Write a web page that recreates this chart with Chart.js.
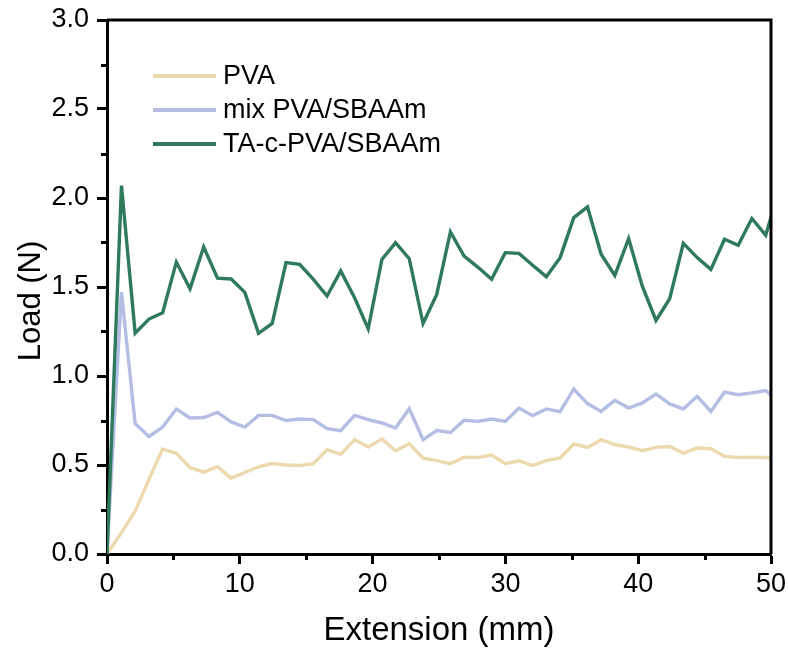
<!DOCTYPE html>
<html>
<head>
<meta charset="utf-8">
<script src="https://cdn.jsdelivr.net/npm/chart.js"></script>
<style>
  body{margin:0;background:#fff;}
  #wrap{width:788px;height:652px;}
</style>
</head>
<body>
<div id="wrap"><canvas id="loadChart" width="788" height="652"></canvas></div>
<script>
// extension (mm) of each sample point, shared by the three curves
const extension = [0, 1.09, 2.12, 3.16, 4.19, 5.22, 6.25, 7.28, 8.32, 9.35,
  10.38, 11.41, 12.44, 13.48, 14.51, 15.54, 16.57, 17.60, 18.64, 19.67,
  20.70, 21.73, 22.76, 23.80, 24.83, 25.86, 26.89, 27.92, 28.96, 29.99,
  31.02, 32.05, 33.08, 34.12, 35.15, 36.18, 37.21, 38.24, 39.28, 40.31,
  41.34, 42.37, 43.40, 44.44, 45.47, 46.50, 47.53, 48.56, 49.60, 50.63];

const seriesNames = ['PVA', 'mix PVA/SBAAm', 'TA-c-PVA/SBAAm'];

// load (N)
const pvaLoad = [0, 0.12, 0.24, 0.42, 0.589, 0.565, 0.486, 0.46, 0.49, 0.426,
  0.458, 0.49, 0.508, 0.50, 0.497, 0.508, 0.586, 0.56, 0.642, 0.601,
  0.646, 0.58, 0.619, 0.539, 0.525, 0.507, 0.544, 0.542, 0.556, 0.507,
  0.524, 0.497, 0.525, 0.54, 0.618, 0.599, 0.642, 0.614, 0.601, 0.58,
  0.599, 0.604, 0.567, 0.595, 0.591, 0.548, 0.542, 0.544, 0.542, 0.535];

const mixLoad = [0, 1.471, 0.732, 0.660, 0.713, 0.815, 0.764, 0.767, 0.796, 0.742,
  0.713, 0.779, 0.779, 0.750, 0.758, 0.755, 0.704, 0.693, 0.779, 0.755,
  0.736, 0.708, 0.816, 0.642, 0.694, 0.683, 0.751, 0.745, 0.758, 0.745,
  0.820, 0.777, 0.815, 0.800, 0.927, 0.845, 0.801, 0.863, 0.820, 0.849,
  0.899, 0.843, 0.815, 0.886, 0.801, 0.910, 0.895, 0.905, 0.918, 0.85];

const taLoad = [0, 2.07, 1.24, 1.32, 1.355, 1.64, 1.49, 1.725, 1.55, 1.545,
  1.47, 1.24, 1.295, 1.637, 1.627, 1.543, 1.449, 1.59, 1.44, 1.265,
  1.655, 1.749, 1.659, 1.295, 1.458, 1.809, 1.674, 1.612, 1.543, 1.693,
  1.689, 1.622, 1.558, 1.665, 1.89, 1.95, 1.684, 1.565, 1.772, 1.505,
  1.312, 1.434, 1.745, 1.665, 1.599, 1.768, 1.734, 1.885, 1.791, 2.05];

const colors = ['rgb(237,217,174)', 'rgb(180,190,229)', 'rgb(46,122,91)'];
const FONT = 'Arial, "Liberation Sans", sans-serif';

const toPoints = (ys) => ys.map((y, i) => ({x: extension[i], y: y}));

// frame, minor ticks, y title and legend drawn by hand
const framePlugin = {
  id: 'frame',
  afterDraw(chart) {
    const {ctx, chartArea: a, scales} = chart;
    ctx.save();
    ctx.strokeStyle = '#000';
    ctx.lineWidth = 3;
    ctx.beginPath();
    ctx.moveTo(a.left, a.top);
    ctx.lineTo(a.right, a.top);
    ctx.lineTo(a.right, a.bottom);
    ctx.stroke();

    ctx.beginPath();
    for (let v = 0.25; v < 3; v += 0.5) {
      const py = Math.round(scales.y.getPixelForValue(v)) + 0.5;
      ctx.moveTo(a.left, py);
      ctx.lineTo(a.left - 6, py);
    }
    for (let v = 5; v < 50; v += 10) {
      const px = Math.round(scales.x.getPixelForValue(v)) + 0.5;
      ctx.moveTo(px, a.bottom);
      ctx.lineTo(px, a.bottom + 6);
    }
    ctx.stroke();

    // y title
    ctx.fillStyle = '#000';
    ctx.font = '31px ' + FONT;
    ctx.textAlign = 'center';
    ctx.textBaseline = 'middle';
    ctx.translate(31, 301);
    ctx.rotate(-Math.PI / 2);
    ctx.fillText('Load (N)', 0, 0);
    ctx.setTransform(1, 0, 0, 1, 0, 0);

    // legend
    ctx.font = '27px ' + FONT;
    ctx.textAlign = 'left';
    chart.data.datasets.forEach((ds, i) => {
      const y = a.top + 56 + i * 34;
      ctx.strokeStyle = ds.borderColor;
      ctx.lineWidth = 4;
      ctx.beginPath();
      ctx.moveTo(a.left + 46, y);
      ctx.lineTo(a.left + 109, y);
      ctx.stroke();
      ctx.fillText(ds.label, a.left + 116, y + 1);
    });
    ctx.restore();
  }
};

const ctx = document.getElementById('loadChart').getContext('2d');
const myChart = new Chart(ctx, {
  type: 'line',
  data: {
    datasets: [
      {label: seriesNames[0], data: toPoints(pvaLoad), borderColor: colors[0], order: 3},
      {label: seriesNames[1], data: toPoints(mixLoad), borderColor: colors[1], order: 2},
      {label: seriesNames[2], data: toPoints(taLoad), borderColor: colors[2], order: 1}
    ]
  },
  options: {
    responsive: false,
    animation: false,
    events: [],
    layout: {padding: {left: 0, top: 20, right: 17, bottom: 0}},
    elements: {
      line: {borderWidth: 3.4, tension: 0, fill: false},
      point: {radius: 0}
    },
    plugins: {legend: {display: false}, tooltip: {enabled: false}},
    scales: {
      x: {
        type: 'linear',
        min: 0, max: 50,
        // fixed box, no extra room for label overhang
        afterFit: (s) => { s.height = 98; s.paddingLeft = 0; s.paddingRight = 0; },
        ticks: {stepSize: 10, color: '#000', padding: 4, font: {family: FONT, size: 27}},
        grid: {drawOnChartArea: false, drawTicks: true, tickLength: 10, tickWidth: 3, tickColor: '#000'},
        border: {display: true, color: '#000', width: 3},
        title: {display: true, text: 'Extension (mm)', color: '#000', padding: {top: 0, bottom: 1},
          font: {family: FONT, size: 33}}
      },
      y: {
        min: 0, max: 3,
        afterFit: (s) => { s.width = 107; s.paddingTop = 0; s.paddingBottom = 0; },
        ticks: {stepSize: 0.5, color: '#000', padding: 8,
          callback: (v) => v.toFixed(1), font: {family: FONT, size: 27}},
        grid: {drawOnChartArea: false, drawTicks: true, tickLength: 10, tickWidth: 3, tickColor: '#000'},
        border: {display: true, color: '#000', width: 3}
      }
    }
  },
  plugins: [framePlugin]
});
</script>
</body>
</html>
